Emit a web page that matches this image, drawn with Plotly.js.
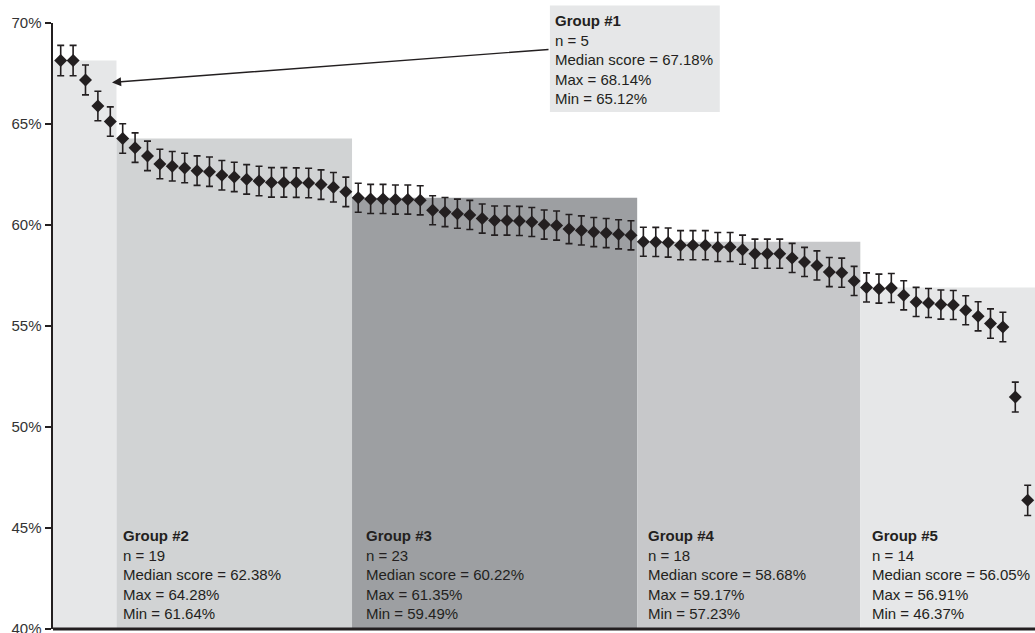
<!DOCTYPE html>
<html>
<head>
<meta charset="utf-8">
<script src="https://cdn.plot.ly/plotly-3.0.1.min.js"></script>
<style>
html,body{margin:0;padding:0;background:#fff;}
#chart{width:1035px;height:633px;}
</style>
</head>
<body>
<div id="chart"></div>
<script>
// ---- data ----
const scores = [
  68.14, 68.14, 67.18, 65.89, 65.12,
  64.28, 63.83, 63.42, 63.02, 62.91, 62.82, 62.69, 62.64, 62.46, 62.38,
  62.26, 62.18, 62.11, 62.11, 62.10, 62.08, 62.00, 61.87, 61.64,
  61.35, 61.29, 61.29, 61.26, 61.26, 61.22, 60.73, 60.64, 60.56, 60.50,
  60.32, 60.22, 60.22, 60.20, 60.15, 60.02, 59.97, 59.80, 59.73, 59.65,
  59.60, 59.54, 59.49,
  59.17, 59.16, 59.13, 59.00, 59.00, 59.00, 58.91, 58.91, 58.78, 58.58,
  58.58, 58.58, 58.37, 58.17, 58.00, 57.67, 57.64, 57.23,
  56.91, 56.85, 56.88, 56.52, 56.19, 56.14, 56.06, 56.04, 55.78, 55.48,
  55.12, 54.95, 51.48, 46.37
];
const errorHalf = [
  0.75, 0.75, 0.74, 0.73, 0.73,
  0.73, 0.73, 0.73, 0.73, 0.73, 0.73, 0.73, 0.73, 0.73, 0.73,
  0.73, 0.73, 0.73, 0.73, 0.73, 0.73, 0.73, 0.73, 0.73,
  0.72, 0.72, 0.72, 0.72, 0.72, 0.72, 0.72, 0.72, 0.72, 0.72,
  0.72, 0.72, 0.72, 0.72, 0.72, 0.72, 0.72, 0.72, 0.72, 0.72,
  0.72, 0.72, 0.72,
  0.72, 0.72, 0.72, 0.72, 0.72, 0.72, 0.72, 0.72, 0.72, 0.72,
  0.72, 0.72, 0.72, 0.72, 0.72, 0.72, 0.72, 0.72,
  0.72, 0.72, 0.72, 0.72, 0.72, 0.72, 0.72, 0.72, 0.72, 0.72,
  0.73, 0.73, 0.74, 0.75
];
const groupNames = ["Group #1", "Group #2", "Group #3", "Group #4", "Group #5"];
const groupN = [5, 19, 23, 18, 14];
const groupMedian = ["67.18%", "62.38%", "60.22%", "58.68%", "56.05%"];
const groupMax = [68.14, 64.28, 61.35, 59.17, 56.91];
const groupMaxLabel = ["68.14%", "64.28%", "61.35%", "59.17%", "56.91%"];
const groupMinLabel = ["65.12%", "61.64%", "59.49%", "57.23%", "46.37%"];
const groupColors = ["#e6e7e8", "#d1d3d4", "#9d9fa2", "#c7c8ca", "#e6e7e8"];
const yTickVals = [40, 45, 50, 55, 60, 65, 70];
const yTickText = ["40%", "45%", "50%", "55%", "60%", "65%", "70%"];

// ---- layout helpers ----
const X_MIN = 0.379, X_MAX = 79.59;
const ink = "#231f20";
const fontFam = "Liberation Sans, Arial, sans-serif";
const xs = scores.map((_, i) => i + 1);

// group boundaries
const bounds = [X_MIN];
let acc = 0;
groupN.forEach((n, k) => { acc += n; bounds.push(k === groupN.length - 1 ? X_MAX : acc + 0.5); });

const shapes = groupN.map((n, k) => ({
  type: "rect", layer: "below", xref: "x", yref: "y",
  x0: bounds[k], x1: bounds[k + 1], y0: 40, y1: groupMax[k],
  fillcolor: groupColors[k], line: {width: 0}
}));
// callout box for Group #1
shapes.push({
  type: "rect", layer: "above", xref: "paper", yref: "paper",
  x0: 0.506, x1: 0.679, y0: 0.853, y1: 1.029,
  fillcolor: "#e6e7e8", line: {width: 0}
});

function groupText(k) {
  return "<b>" + groupNames[k] + "</b><br>n = " + groupN[k] +
    "<br>Median score = " + groupMedian[k] +
    "<br>Max = " + groupMaxLabel[k] +
    "<br>Min = " + groupMinLabel[k];
}

const annotations = [];
// group 1 callout text
annotations.push({
  xref: "paper", yref: "paper", x: 0.509, y: 1.022,
  xanchor: "left", yanchor: "top", align: "left", showarrow: false,
  text: groupText(0), font: {family: fontFam, size: 15, color: ink}
});
// arrow
annotations.push({
  xref: "x", yref: "y", x: 5.14, y: 67.06,
  axref: "pixel", ayref: "pixel", ax: 438, ay: -33,
  showarrow: true, arrowhead: 2, arrowsize: 1.3, arrowwidth: 1.4,
  arrowcolor: ink, text: "", standoff: 0, startstandoff: 0
});
// group 2-5 text
const textX = [0, 5.9, 25.43, 48.25, 66.32];
for (let k = 1; k < 5; k++) {
  annotations.push({
    xref: "x", yref: "y", x: textX[k], y: 45.15,
    xanchor: "left", yanchor: "top", align: "left", showarrow: false,
    text: groupText(k), font: {family: fontFam, size: 15, color: ink}
  });
}

const trace = {
  type: "scatter", mode: "markers", x: xs, y: scores,
  marker: {symbol: "diamond", size: 10, color: ink, line: {width: 0}},
  error_y: {type: "data", array: errorHalf, visible: true, color: ink, thickness: 1.6, width: 3.5},
  cliponaxis: false, hoverinfo: "skip"
};

const layout = {
  width: 1035, height: 633,
  margin: {l: 53, r: 0, t: 23, b: 4, pad: 0},
  paper_bgcolor: "#ffffff", plot_bgcolor: "#ffffff",
  showlegend: false,
  xaxis: {
    range: [X_MIN, X_MAX], showgrid: false, zeroline: false,
    showticklabels: false, ticks: "", showline: false
  },
  yaxis: {
    range: [40, 70], tickvals: yTickVals, ticktext: yTickText,
    showgrid: false, zeroline: false, showline: true, linecolor: ink, linewidth: 2.5,
    ticks: "outside", ticklen: 6, tickwidth: 2, tickcolor: ink,
    ticklabeloverflow: "allow",
    tickfont: {family: fontFam, size: 15, color: "#333333"}
  },
  shapes: shapes,
  annotations: annotations
};
// bottom axis line
layout.shapes.push({
  type: "line", layer: "above", xref: "paper", yref: "paper",
  x0: 0, x1: 1, y0: 0, y1: 0, line: {color: ink, width: 3}
});

Plotly.newPlot("chart", [trace], layout, {staticPlot: true, displayModeBar: false});
</script>
</body>
</html>
